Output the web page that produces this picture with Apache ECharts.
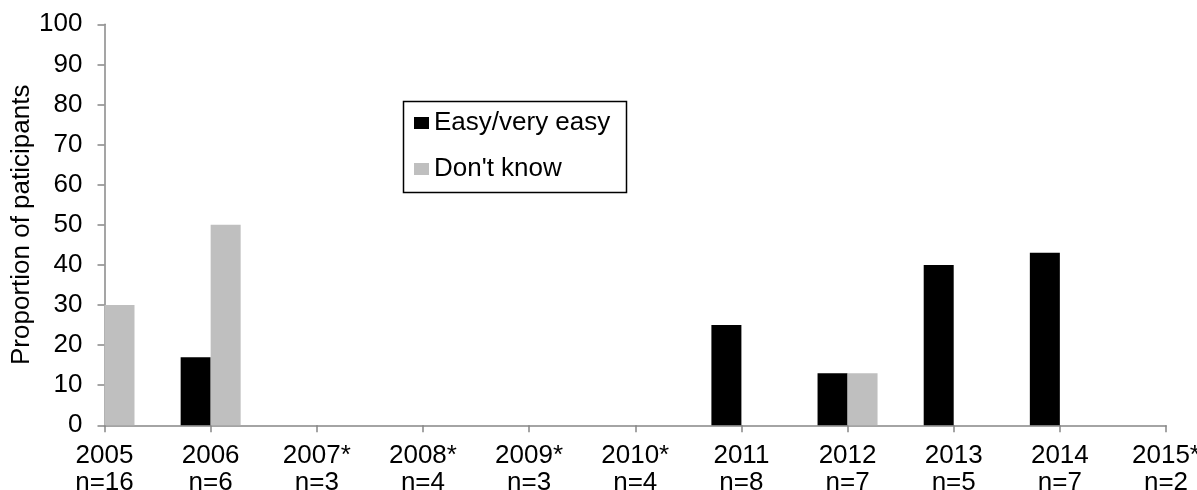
<!DOCTYPE html>
<html>
<head>
<meta charset="utf-8">
<script src="https://cdn.jsdelivr.net/npm/echarts@6/dist/echarts.min.js"></script>
<style>
  html, body { margin: 0; padding: 0; background: #fff; }
  #main { width: 1197px; height: 490px; }
</style>
</head>
<body>
<div id="main"></div>
<script>
var years = ['2005', '2006', '2007*', '2008*', '2009*', '2010*', '2011', '2012', '2013', '2014', '2015*'];
var sampleSizes = ['n=16', 'n=6', 'n=3', 'n=4', 'n=3', 'n=4', 'n=8', 'n=7', 'n=5', 'n=7', 'n=2'];
var easyValues = [0, 17, 0, 0, 0, 0, 25, 13, 40, 43, 0];
var dontKnowValues = [30, 50, 0, 0, 0, 0, 0, 13, 0, 0, 0];

var chart = echarts.init(document.getElementById('main'));
var font = '"Liberation Sans", Arial, sans-serif';
var categories = years.map(function (y, i) { return y + '\n' + sampleSizes[i]; });

var option = {
    animation: false,
    grid: { left: 104.5, right: 31, top: 24.3, bottom: 64.7, containLabel: false, outerBoundsMode: 'none' },
    legend: {
        orient: 'vertical',
        left: 414, top: 110,
        padding: 0,
        itemGap: 20,
        itemWidth: 15, itemHeight: 12,
        icon: 'rect',
        textStyle: { fontFamily: font, fontSize: 26, color: '#000', lineHeight: 26 },
        data: ['Easy/very easy', "Don't know"]
    },
    graphic: [{
        type: 'rect', left: 401, top: 99,
        shape: { width: 223, height: 91 },
        style: { fill: 'none', stroke: '#000', lineWidth: 1.5 },
        z: 10
    }],
    xAxis: {
        type: 'category',
        data: categories,
        boundaryGap: false,
        axisLine: { lineStyle: { color: '#878787', width: 1.5 } },
        axisTick: { show: true, length: 7, alignWithLabel: true, lineStyle: { color: '#878787', width: 1.5 } },
        axisLabel: { interval: 0, margin: 17, color: '#000', fontFamily: font, fontSize: 26, lineHeight: 27 },
        splitLine: { show: false }
    },
    yAxis: {
        type: 'value',
        min: 0, max: 100, interval: 10,
        name: 'Proportion of paticipants',
        nameLocation: 'middle',
        nameGap: 70,
        nameMoveOverlap: false,
        nameTextStyle: { fontFamily: font, fontSize: 26, color: '#000' },
        axisLine: { show: true, lineStyle: { color: '#878787', width: 1.5 } },
        axisTick: { show: true, length: 7, lineStyle: { color: '#878787', width: 1.5 } },
        axisLabel: { margin: 22, color: '#000', fontFamily: font, fontSize: 26 },
        splitLine: { show: false }
    },
    series: [
        {
            name: 'Easy/very easy', type: 'bar', data: easyValues,
            barWidth: 30, barGap: '0%', clip: true,
            itemStyle: { color: '#000000' }
        },
        {
            name: "Don't know", type: 'bar', data: dontKnowValues,
            barWidth: 30, barGap: '0%', clip: true,
            itemStyle: { color: '#bfbfbf' }
        }
    ]
};
chart.setOption(option);
</script>
</body>
</html>
